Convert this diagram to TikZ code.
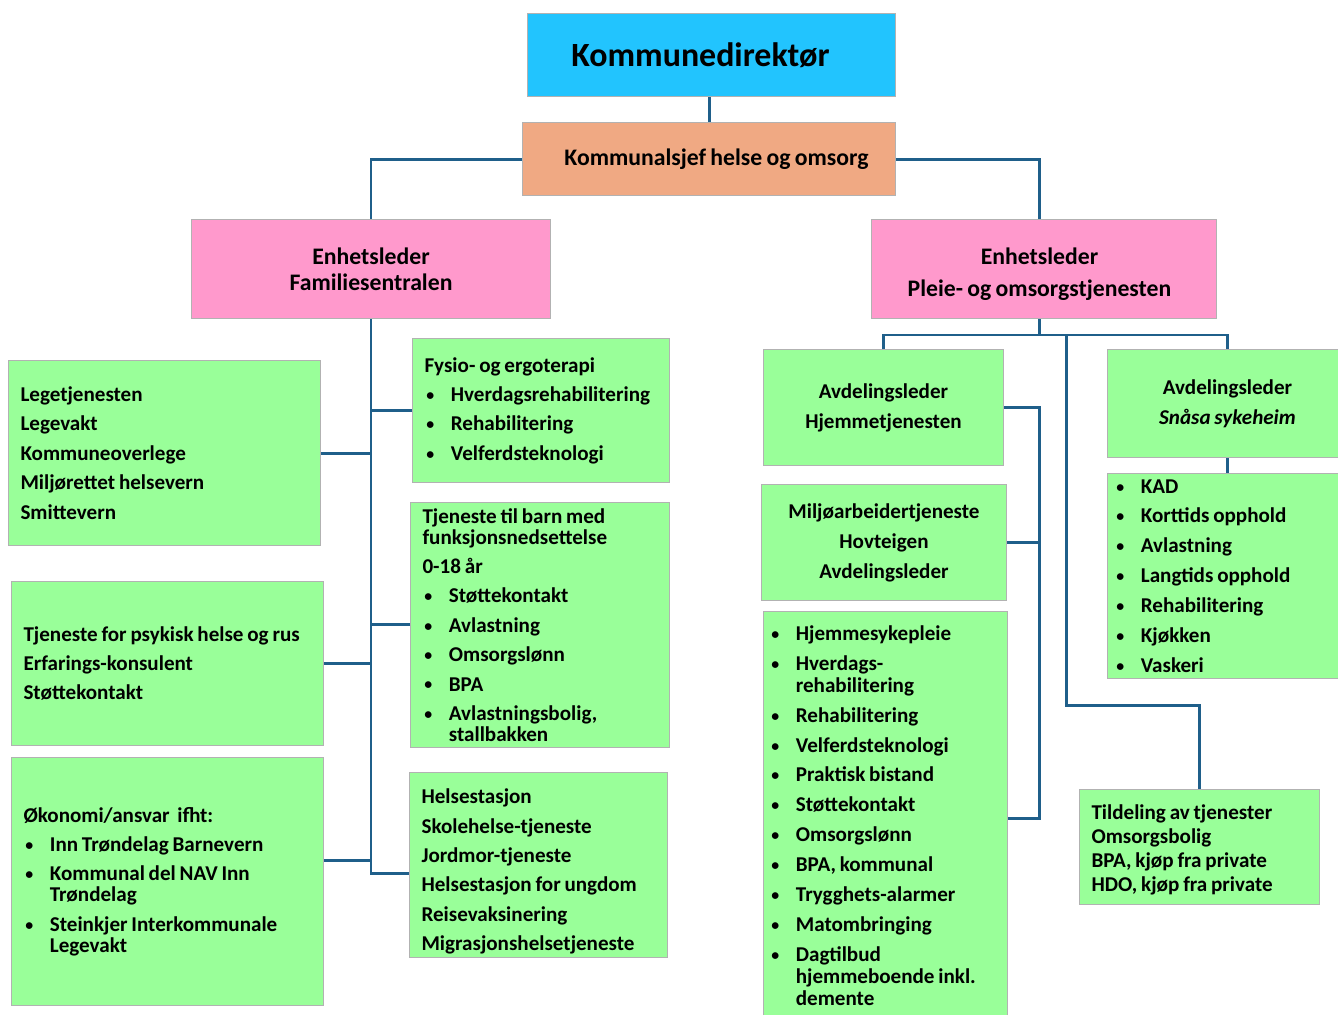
\documentclass[tikz,border=0pt]{standalone}
\usepackage{fontspec}
\setmainfont{Carlito}[WordSpace=0.8]
\usepackage{tikz}
\usetikzlibrary{positioning}
\definecolor{direktorblue}{HTML}{22C4FE}
\definecolor{sjefsalmon}{HTML}{F0A983}
\definecolor{lederpink}{HTML}{FF99CC}
\definecolor{tjgreen}{HTML}{99FF99}
\definecolor{linjeblue}{HTML}{1F5F8A}
\newcommand{\pkt}{\makebox[15pt][l]{\hspace{1pt}\raisebox{0.6pt}{\fontsize{9}{9}\selectfont\textbullet}}}
\newcommand{\ind}{\hspace*{15pt}}

\begin{document}
\begin{tikzpicture}[x=0.02cm, y=-0.02cm, box/.style={draw=black!30, line width=0.6pt, anchor=north west, font=\bfseries\fontsize{12}{12}\selectfont}, leder/.style={box, align=center}, bigleder/.style={leder, font=\bfseries\fontsize{13.5}{14.7}\selectfont}, tjeneste/.style={box, fill=tjgreen, align=flush left, inner xsep=0.24cm}, linje/.style={draw=linjeblue, line width=1.7pt}]
    \useasboundingbox (0,0) rectangle (1338,1014);

    %Nodes
    \node[leder, fill=direktorblue, minimum width=7.36cm, minimum height=1.66cm, font=\bfseries\fontsize{19.3}{23}\selectfont](kdir) at (527,13){Kommunedirektør\hspace*{0.44cm}};
    \node[bigleder, fill=sjefsalmon, minimum width=7.46cm, minimum height=1.46cm](ksjef) at (522,122){\hspace*{0.3cm}Kommunalsjef helse og omsorg};
    \node[bigleder, fill=lederpink, minimum width=7.18cm, minimum height=1.98cm](fam) at (191,219){Enhetsleder\\Familiesentralen};
    \node[bigleder, fill=lederpink, minimum width=6.9cm, minimum height=1.98cm](pleie) at (871,219){\rule{0pt}{15pt}Enhetsleder\hspace*{0.18cm}\\[3.4pt]Pleie- og omsorgstjenesten\hspace*{0.18cm}};

    \node[tjeneste, text width=5.76cm, minimum height=3.70cm](lege) at (8,360){Legetjenesten\\[4.7pt]Legevakt\\[4.7pt]Kommuneoverlege\\[4.7pt]Miljørettet helsevern\\[4.7pt]Smittevern};
    \node[tjeneste, text width=5.76cm, minimum height=3.28cm](psyk) at (11,581){\mbox{Tjeneste for psykisk helse og rus}\\[4.7pt]Erfarings-konsulent\\[4.7pt]Støttekontakt};
    \node[tjeneste, text width=5.76cm, minimum height=4.96cm](okon) at (11,757){Økonomi/ansvar~ ifht:\\[4.7pt]\pkt Inn Trøndelag Barnevern\\[4.7pt]\pkt Kommunal del NAV Inn\\\ind Trøndelag\\[4.7pt]\pkt Steinkjer Interkommunale\\\ind Legevakt};
    \node[tjeneste, text width=4.66cm, minimum height=2.88cm](fysio) at (412,338){Fysio- og ergoterapi\\[4.7pt]\pkt Hverdagsrehabilitering\\[4.7pt]\pkt Rehabilitering\\[4.7pt]\pkt Velferdsteknologi};
    \node[tjeneste, text width=4.70cm, minimum height=4.84cm](barn) at (410,502){Tjeneste til barn med\\funksjonsnedsettelse\\[4.7pt]0-18 år\\[4.7pt]\pkt Støttekontakt\\[4.7pt]\pkt Avlastning\\[4.7pt]\pkt Omsorgslønn\\[4.7pt]\pkt BPA\\[4.7pt]\pkt Avlastningsbolig,\\\ind stallbakken};
    \node[tjeneste, inner ysep=0pt, text width=4.68cm, minimum height=3.70cm](helse) at (409,772){\rule{0pt}{16pt}Helsestasjon\\[4.7pt]Skolehelse-tjeneste\\[4.7pt]Jordmor-tjeneste\\[4.7pt]Helsestasjon for ungdom\\[4.7pt]Reisevaksinering\\[4.7pt]Migrasjonshelsetjeneste};

    \node[leder, fill=tjgreen, minimum width=4.8cm, minimum height=2.32cm](hjem) at (763,349){Avdelingsleder\\[5pt]Hjemmetjenesten};
    \node[leder, fill=tjgreen, minimum width=4.9cm, minimum height=2.32cm](miljo) at (761,484){Miljøarbeidertjeneste\\[5pt]Hovteigen\\[5pt]Avdelingsleder};
    \node[tjeneste, inner xsep=0.12cm, text width=4.64cm, minimum height=8.16cm](hliste) at (763,611){\pkt Hjemmesykepleie\\[5pt]\pkt Hverdags-\\[0.5pt]\ind rehabilitering\\[5pt]\pkt Rehabilitering\\[5pt]\pkt Velferdsteknologi\\[5pt]\pkt Praktisk bistand\\[5pt]\pkt Støttekontakt\\[5pt]\pkt Omsorgslønn\\[5pt]\pkt BPA, kommunal\\[5pt]\pkt Trygghets-alarmer\\[5pt]\pkt Matombringing\\[5pt]\pkt Dagtilbud\\[0.5pt]\ind hjemmeboende inkl.\\[0.5pt]\ind demente};
    \node[leder, fill=tjgreen, minimum width=4.8cm, minimum height=2.16cm](snasa) at (1107,349){Avdelingsleder\\[5pt]\textit{Snåsa sykeheim}};
    \node[tjeneste, inner xsep=0.14cm, text width=4.52cm, minimum height=4.08cm](kad) at (1107,473){\pkt KAD\\[5pt]\pkt Korttids opphold\\[5pt]\pkt Avlastning\\[5pt]\pkt Langtids opphold\\[5pt]\pkt Rehabilitering\\[5pt]\pkt Kjøkken\\[5pt]\pkt Vaskeri};
    \node[tjeneste, inner xsep=0.24cm, text width=4.32cm, minimum height=2.3cm](tild) at (1079,789){\rule{0pt}{12pt}Tildeling av tjenester\\[1.6pt]Omsorgsbolig\\[1.6pt]BPA, kjøp fra private\\[1.6pt]HDO, kjøp fra private};

    \coordinate (pj) at ([xshift=-0.09cm]pleie.south |- 0,335);
    \coordinate (tbend) at (1066,705);
    \coordinate (hbar) at (1039,818);

    %Lines
    \draw[linje] (kdir.south -| 709,0) -- (ksjef.north -| 709,0);
    \draw[linje] (ksjef.west) -| (fam.north);
    \draw[linje] (ksjef.east) -| (pleie.north -| pj);
    \draw[linje] (fam.south) |- ([yshift=-0.16cm]helse.west);
    \draw[linje] (lege.east) -- (lege.east -| fam.south);
    \draw[linje] (fysio.west) -- (fysio.west -| fam.south);
    \draw[linje] (barn.west) -- (barn.west -| fam.south);
    \draw[linje] (psyk.east) -- (psyk.east -| fam.south);
    \draw[linje] ([yshift=0.42cm]okon.east) -- ([yshift=0.42cm]okon.east -| fam.south);
    \draw[linje] (pleie.south -| pj) -- (pj);
    \draw[linje] (hjem.north) |- (pj) -| (snasa.north);
    \draw[linje] (tbend |- pj) -- (tbend) -| (tild.north);
    \draw[linje] (hjem.east) -| (hbar) -- (hbar -| hliste.east);
    \draw[linje] (miljo.east) -- (miljo.east -| hbar);
    \draw[linje] (snasa.south) -- (kad.north);

\end{tikzpicture}
\end{document}
